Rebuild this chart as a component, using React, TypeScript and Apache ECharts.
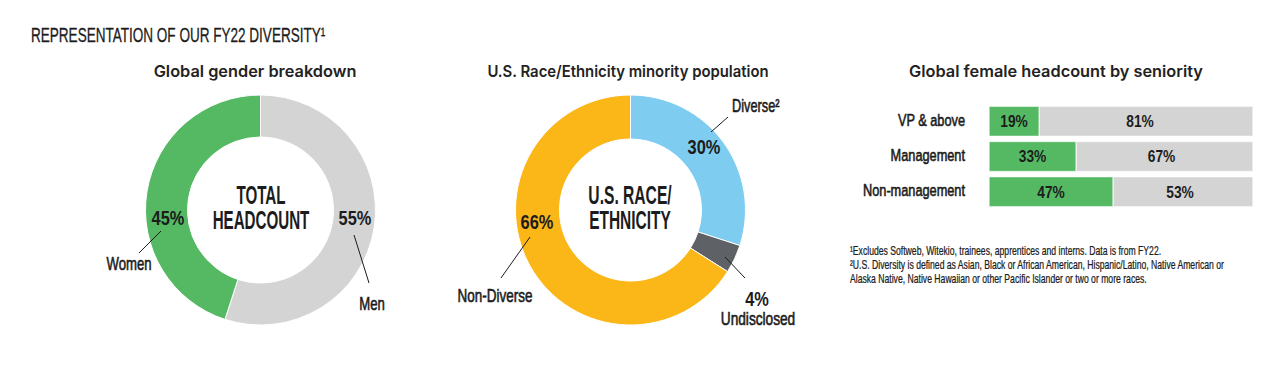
import React, { useEffect, useRef } from "react";
import * as echarts from "echarts";

const genderNames = ["Men", "Women"];
const genderValues = [55, 45];
const raceNames = ["Diverse", "Undisclosed", "Non-Diverse"];
const raceValues = [30, 4, 66];
const seniorityCats = ["VP & above", "Management", "Non-management"];
const femaleValues = [19, 33, 47];
const maleValues = [81, 67, 53];

const GREEN = "#55b963";
const GRAY = "#d4d4d4";
const BLUE = "#7ecdf0";
const DARK = "#5e6166";
const ORANGE = "#fbb617";
const INK = "#1c1c1c";
const COND = '"Liberation Sans", Arimo, Arial, sans-serif';
const HEAD = "Inter, Lato, sans-serif";

function ctext(
  text: string,
  x: number,
  y: number,
  size: number,
  sx: number,
  align = "center",
  weight: any = "normal",
  sw = 0
) {
  const style: any = {
    text,
    fontFamily: COND,
    fontWeight: weight,
    fontSize: size,
    fill: INK,
    align,
    verticalAlign: "middle",
  };
  if (sw > 0) {
    style.stroke = INK;
    style.lineWidth = sw;
  }
  return { type: "text", x, y, scaleX: sx, silent: true, z: 100, style };
}
function htext(text: string, x: number, y: number, sx: number) {
  return {
    type: "text",
    x,
    y,
    scaleX: sx,
    silent: true,
    style: {
      text,
      fontFamily: HEAD,
      fontWeight: 600,
      fontSize: 16,
      fill: "#222",
      align: "center",
      verticalAlign: "middle",
    },
  };
}
function ln(x1: number, y1: number, x2: number, y2: number) {
  return { type: "line", silent: true, z: 100, shape: { x1, y1, x2, y2 }, style: { stroke: INK, lineWidth: 1 } };
}

export default function App() {
  const ref = useRef<HTMLDivElement>(null);
  useEffect(() => {
    document.body.style.margin = "0";
    const chart = echarts.init(ref.current!, null, { renderer: "svg" });
    const option: any = {
      animation: false,
      backgroundColor: "#fff",
      grid: { left: 989, width: 264, top: 103.7, height: 105.6 },
      xAxis: { type: "value", min: 0, max: 100, show: false },
      yAxis: {
        type: "category",
        data: seniorityCats,
        inverse: true,
        axisLine: { show: false },
        axisTick: { show: false },
        axisLabel: { show: false },
      },
      series: [
        {
          type: "pie",
          center: [260.5, 210],
          radius: [73, 115],
          startAngle: 90,
          silent: true,
          itemStyle: { borderColor: "#fff", borderWidth: 1 },
          label: { show: false },
          data: genderNames.map((n, i) => ({
            name: n,
            value: genderValues[i],
            itemStyle: { color: [GRAY, GREEN][i] },
          })),
        },
        {
          type: "pie",
          center: [630.5, 210],
          radius: [71, 115],
          startAngle: 90,
          silent: true,
          itemStyle: { borderColor: "#fff", borderWidth: 1 },
          label: { show: false },
          data: raceNames.map((n, i) => ({
            name: n,
            value: raceValues[i],
            itemStyle: { color: [BLUE, DARK, ORANGE][i] },
          })),
        },
        {
          type: "bar",
          stack: "s",
          barWidth: 30,
          itemStyle: { color: GREEN, borderColor: "#fff", borderWidth: 0.5 },
          data: femaleValues,
        },
        {
          type: "bar",
          stack: "s",
          barWidth: 30,
          itemStyle: { color: GRAY, borderColor: "#fff", borderWidth: 0.5 },
          data: maleValues,
        },
      ],
    };
    chart.setOption(option);

    const barTexts: any[] = [];
    seniorityCats.forEach((c, i) => {
      const yc = chart.convertToPixel({ yAxisIndex: 0 }, i) as number;
      const x0 = chart.convertToPixel({ xAxisIndex: 0 }, 0) as number;
      const xf = chart.convertToPixel({ xAxisIndex: 0 }, femaleValues[i] / 2) as number;
      const xm = chart.convertToPixel({ xAxisIndex: 0 }, femaleValues[i] + maleValues[i] / 2) as number;
      barTexts.push(ctext(c, x0 - 24, yc - 2, 17, 0.75, "right", "normal", 0.6));
      barTexts.push(ctext(femaleValues[i] + "%", xf, yc, 16, 0.86, "center", "bold"));
      barTexts.push(ctext(maleValues[i] + "%", xm - (i === 0 ? 6 : 3), yc, 16, 0.86, "center", "bold"));
    });

    chart.setOption({
      graphic: [
        ctext("REPRESENTATION OF OUR FY22 DIVERSITY¹", 31, 35, 21, 0.645, "left", "normal", 0.3),
        htext("Global gender breakdown", 255, 71, 1.02),
        htext("U.S. Race/Ethnicity minority population", 628, 71, 0.93),
        htext("Global female headcount by seniority", 1056, 71, 1.02),
        ctext("TOTAL", 261, 195, 25, 0.606, "center", "bold"),
        ctext("HEADCOUNT", 261, 220, 25, 0.606, "center", "bold"),
        ctext("U.S. RACE/", 630, 195, 25, 0.625, "center", "bold"),
        ctext("ETHNICITY", 630, 220, 25, 0.62, "center", "bold"),
        ctext(genderValues[1] + "%", 168, 218, 20, 0.82, "center", "bold"),
        ctext(genderValues[0] + "%", 355, 218, 20, 0.82, "center", "bold"),
        ctext(raceValues[0] + "%", 704, 147, 20, 0.82, "center", "bold"),
        ctext(raceValues[2] + "%", 537, 222, 20, 0.82, "center", "bold"),
        ctext(genderNames[1], 129, 264, 18, 0.73, "center", "normal", 0.6),
        ln(161, 231, 139, 253),
        ctext(genderNames[0], 372, 304, 18, 0.73, "center", "normal", 0.6),
        ln(354, 235, 369, 283),
        ctext(raceNames[0] + "²", 732, 106, 18, 0.71, "left", "normal", 0.6),
        ln(711, 132, 728, 117),
        ctext(raceNames[2], 495, 296, 18, 0.75, "center", "normal", 0.6),
        ln(530, 237, 501, 278),
        ln(725, 257, 745, 278),
        ctext(raceValues[1] + "%", 757, 299, 20, 0.82, "center", "bold"),
        ctext(raceNames[1], 758, 319, 18, 0.76, "center", "normal", 0.6),
        ...barTexts,
        ctext("¹Excludes Softweb, Witekio, trainees, apprentices and interns. Data is from FY22.", 850, 251, 12, 0.72, "left", "normal", 0.25),
        ctext("²U.S. Diversity is defined as Asian, Black or African American, Hispanic/Latino, Native American or", 850, 265, 12, 0.72, "left", "normal", 0.25),
        ctext("Alaska Native, Native Hawaiian or other Pacific Islander or two or more races.", 850, 279, 12, 0.72, "left", "normal", 0.25),
      ],
    });
    return () => chart.dispose();
  }, []);
  return <div ref={ref} style={{ width: 1286, height: 374 }} />;
}
